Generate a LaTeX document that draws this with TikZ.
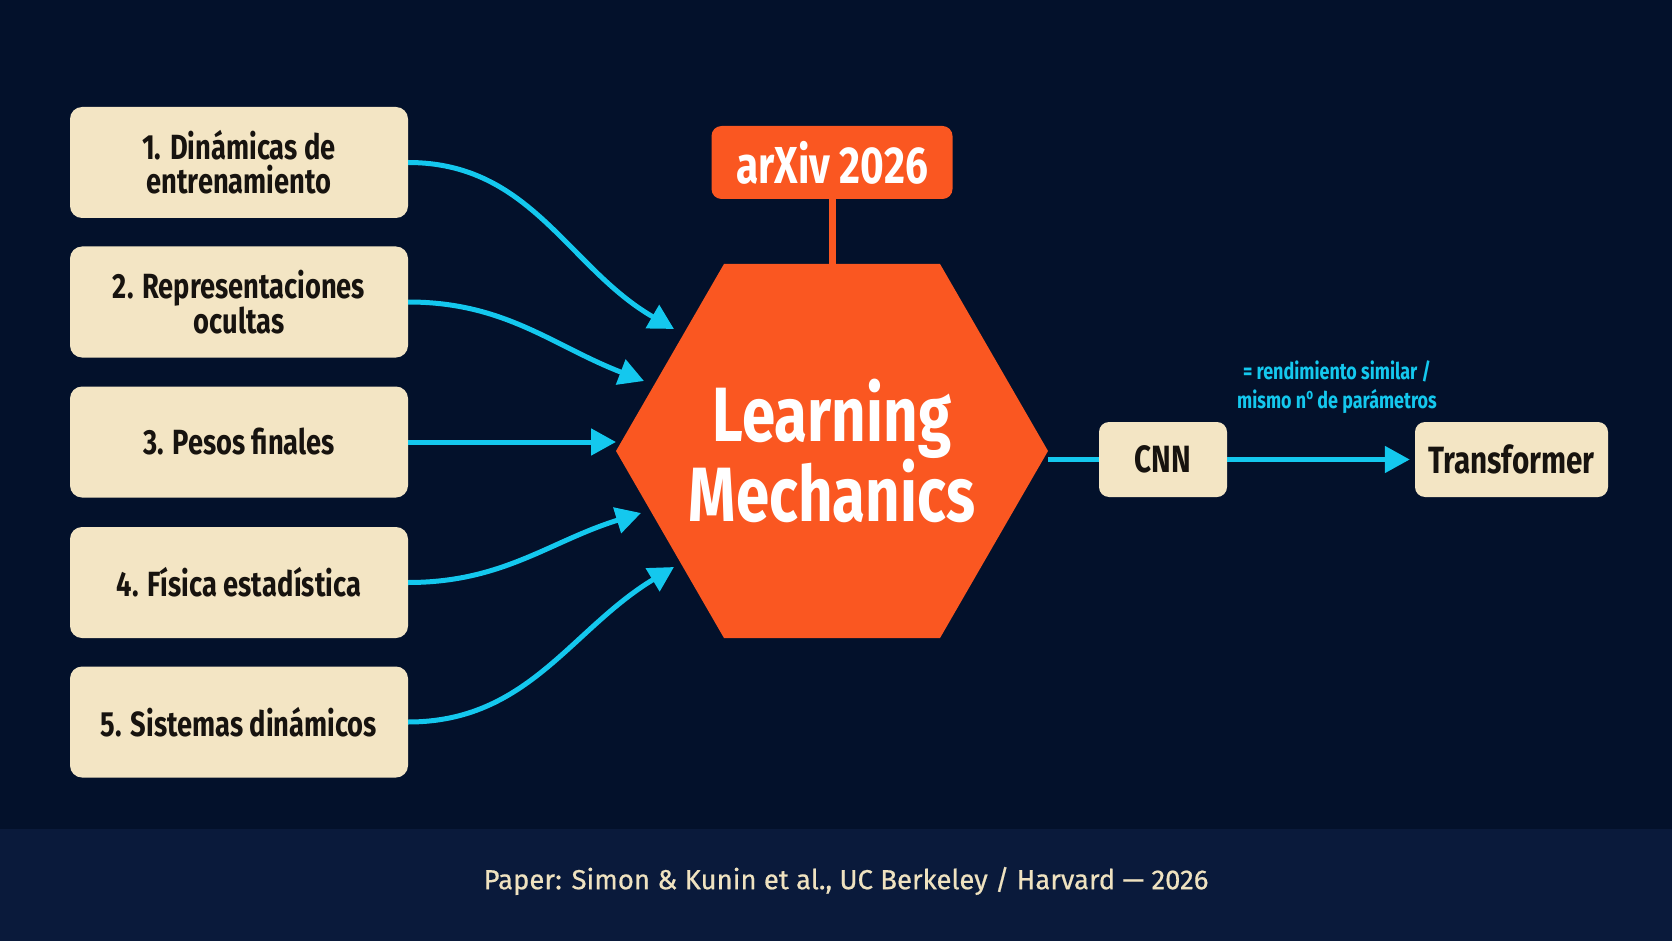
\documentclass[tikz,border=0pt]{standalone}
\usepackage{fontspec}
\setmainfont{Fira Sans}
\newfontfamily\condfont{Fira Sans Bold}[FakeStretch=0.78]
\newfontfamily\footfont{Fira Sans}[FakeBold=0.6]
\usetikzlibrary{arrows.meta,shapes.geometric}
\definecolor{bg}{HTML}{03112B}
\definecolor{footbg}{HTML}{0A1A3B}
\definecolor{cream}{HTML}{F3E5C4}
\definecolor{orng}{HTML}{FA5721}
\definecolor{cyn}{HTML}{14C8EE}
\definecolor{ink}{HTML}{17130F}
\definecolor{foottext}{HTML}{EFE2C0}
\begin{document}
\begin{tikzpicture}[x=1pt,y=-1pt,
  srcbox/.style={fill=cream, rounded corners=12pt, minimum width=338pt, minimum height=111pt, inner sep=0pt, text=ink, font=\condfont\fontsize{35}{34}\selectfont, align=center},
  smallbox/.style={fill=cream, rounded corners=10pt, minimum height=75pt, inner sep=0pt, text=ink, font=\condfont\fontsize{38}{38}\selectfont},
  flow/.style={draw=cyn, line width=5pt, -{Triangle[length=25pt,width=26pt]}}
]
\useasboundingbox (0,0) rectangle (1672,941);
\fill[bg] (0,0) rectangle (1672,941);
\fill[footbg] (0,829) rectangle (1672,941);

% source boxes
\node[srcbox] (b1) at (239,162.5) {1. Dinámicas de\\entrenamiento};
\node[srcbox] (b2) at (239,302) {2. Representaciones\\ocultas};
\node[srcbox] (b3) at (239,442) {3. Pesos finales};
\node[srcbox] (b4) at (239,582.5) {4. Física estadística};
\node[srcbox] (b5) at (239,722) {5. Sistemas dinámicos};

% hexagon
\node[regular polygon, regular polygon sides=6, minimum size=432pt, inner sep=0pt, fill=orng] (hex) at (832,451) {};
\node[text=white, font=\condfont\fontsize{77}{80}\selectfont, align=center] (lm) at (hex.center) {Learning\\Mechanics};

% arXiv tag
\node[fill=orng, rounded corners=10pt, minimum width=241pt, minimum height=73pt, inner sep=0pt, text=white, font=\condfont\fontsize{52}{52}\selectfont] (arx) at (832,162.5) {arXiv 2026};
\draw[orng, line width=7pt] (arx.south) -- (hex.north);

% arrow tips
\coordinate (t1) at (674,329);
\coordinate (t2) at (644,381);
\coordinate (t3) at (616,442);
\coordinate (t4) at (641,513);
\coordinate (t5) at (674,567);

\draw[flow] (b1.east) .. controls +(123,0) and +(-106,-61) .. (t1);
\draw[flow] (b2.east) .. controls +(97,0) and +(-91,-35) .. (t2);
\draw[flow] (b3.east) -- (t3);
\draw[flow] (b4.east) .. controls +(95,0) and +(-91,28) .. (t4);
\draw[flow] (b5.east) .. controls +(120,0) and +(-103,62) .. (t5);

% right side
\node[smallbox, minimum width=128pt] (cnn) at (1163,459.5) {CNN};
\node[smallbox, minimum width=193pt] (tr) at (1511.5,459.5) {Transformer};
\draw[cyn, line width=5pt] (hex.east |- cnn.west) -- (cnn.west);
\draw[flow, shorten >=5pt] (cnn.east) -- (tr.west);
\node[text=cyn, font=\condfont\fontsize{23}{29}\selectfont, align=center] (lbl) at (1337,387) {= rendimiento similar /\\mismo n\raisebox{0.38em}{\fontsize{15}{15}\selectfont o} de parámetros};

% footer
\node[text=foottext, font=\footfont\fontsize{27.5}{27.5}\selectfont] (foot) at (846,881) {Paper: Simon \& Kunin et al., UC Berkeley / Harvard — 2026};
\end{tikzpicture}
\end{document}
